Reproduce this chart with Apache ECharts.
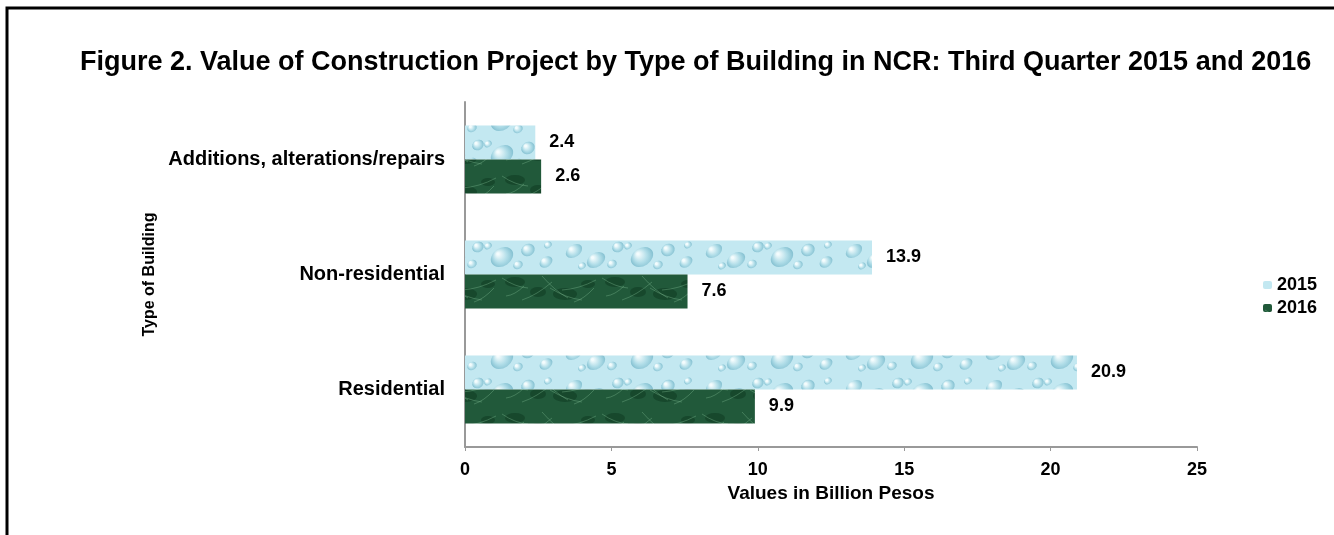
<!DOCTYPE html>
<html>
<head>
<meta charset="utf-8">
<script src="https://cdn.jsdelivr.net/npm/echarts@6/dist/echarts.min.js"></script>
<style>
html,body{margin:0;padding:0;background:#fff;}
#chart{width:1334px;height:535px;}
</style>
</head>
<body>
<div id="chart"></div>
<script>
const categories = ['Residential', 'Non-residential', 'Additions, alterations/repairs'];
const seriesNames = ['2015', '2016'];
const values2015 = [20.9, 13.9, 2.4];
const values2016 = [9.9, 7.6, 2.6];
const xTicks = [0, 5, 10, 15, 20, 25];

const FONT = 'Liberation Sans, Arial, sans-serif';

function waterPattern() {
  const c = document.createElement('canvas');
  c.width = 140; c.height = 34;
  const g = c.getContext('2d');
  g.fillStyle = '#c3e8f1'; g.fillRect(0, 0, 140, 34);
  const drops = [[14,13,9,6],[36,22,10,7],[58,9,6,5],[82,19,12,9],[108,12,7,6],[126,24,7,5],[22,28,4,3],[98,27,5,4],[52,26,5,4],[68,8,4,3],[128,7,4,3]];
  drops.forEach(function (d) {
    const rg = g.createRadialGradient(d[0] - d[2] * 0.35, d[1] - d[3] * 0.35, 1, d[0], d[1], d[2]);
    rg.addColorStop(0, '#f4fcfd'); rg.addColorStop(0.55, '#b0dde8'); rg.addColorStop(1, '#82bfd0');
    g.fillStyle = rg;
    g.beginPath(); g.ellipse(d[0], d[1], d[2], d[3], -0.6, 0, Math.PI * 2); g.fill();
  });
  return c;
}
function marblePattern() {
  const c = document.createElement('canvas');
  c.width = 100; c.height = 34;
  const g = c.getContext('2d');
  g.fillStyle = '#21593a'; g.fillRect(0, 0, 100, 34);
  g.fillStyle = 'rgba(12,50,28,0.45)';
  [[15,10,10,5],[65,22,12,6],[88,12,7,4],[38,20,8,5]].forEach(function (e) { g.beginPath(); g.ellipse(e[0], e[1], e[2], e[3], 0, 0, Math.PI*2); g.fill(); });
  g.strokeStyle = 'rgba(120,180,140,0.4)'; g.lineWidth = 1;
  const lines = [[2,6,28,16],[22,28,52,10],[42,4,68,26],[62,18,96,8],[74,30,94,16],[6,24,24,14],[50,16,82,28]];
  lines.forEach(function (l) { g.beginPath(); g.moveTo(l[0], l[1]); g.quadraticCurveTo((l[0]+l[2])/2, (l[1]+l[3])/2 + 4, l[2], l[3]); g.stroke(); });
  return c;
}

const chart = echarts.init(document.getElementById('chart'));
const labelStyle = { show: true, position: 'right', distance: 14, fontFamily: FONT, fontWeight: 'bold', fontSize: 18, color: '#000' };
chart.setOption({
  animation: false,
  backgroundColor: '#fff',
  title: {
    text: 'Figure 2. Value of Construction Project by Type of Building in NCR: Third Quarter 2015 and 2016',
    left: 75, top: 44,
    textStyle: { fontFamily: FONT, fontWeight: 'bold', fontSize: 27, color: '#000' }
  },
  graphic: [
    { type: 'polyline', shape: { points: [[7, 535], [7, 8], [1334, 8]] }, style: { stroke: '#000', lineWidth: 3, fill: null } }
  ],
  legend: {
    orient: 'vertical', left: 1258, top: 271, itemWidth: 9, itemHeight: 8, itemGap: 5,
    data: seriesNames,
    textStyle: { fontFamily: FONT, fontWeight: 'bold', fontSize: 18, color: '#000' }
  },
  grid: { left: 465, right: 137, top: 102, bottom: 88, containLabel: false },
  xAxis: {
    type: 'value', min: xTicks[0], max: xTicks[xTicks.length - 1], interval: 5,
    name: 'Values in Billion Pesos', nameLocation: 'middle', nameGap: 34,
    nameTextStyle: { fontFamily: FONT, fontWeight: 'bold', fontSize: 19, color: '#000' },
    axisLine: { show: true, lineStyle: { color: '#999', width: 2 } },
    axisTick: { show: true, length: 4, lineStyle: { color: '#999' } },
    splitLine: { show: false },
    axisLabel: { margin: 14, fontFamily: FONT, fontWeight: 'bold', fontSize: 18, color: '#000' }
  },
  yAxis: {
    type: 'category', data: categories,
    name: 'Type of Building', nameLocation: 'middle', nameGap: 299, nameRotate: 90,
    nameTextStyle: { fontFamily: FONT, fontWeight: 'bold', fontSize: 16, color: '#000' },
    axisLine: { show: true, lineStyle: { color: '#999', width: 2 } },
    axisTick: { show: false },
    axisLabel: { margin: 20, fontFamily: FONT, fontWeight: 'bold', fontSize: 20, color: '#000' }
  },
  series: [
    { name: seriesNames[0], type: 'bar', data: values2015, barWidth: 34, barGap: '0%',
      itemStyle: { color: { image: waterPattern(), repeat: 'repeat' } }, label: labelStyle },
    { name: seriesNames[1], type: 'bar', data: values2016, barWidth: 34, barGap: '0%',
      itemStyle: { color: { image: marblePattern(), repeat: 'repeat' } }, label: labelStyle }
  ]
});
</script>
</body>
</html>
